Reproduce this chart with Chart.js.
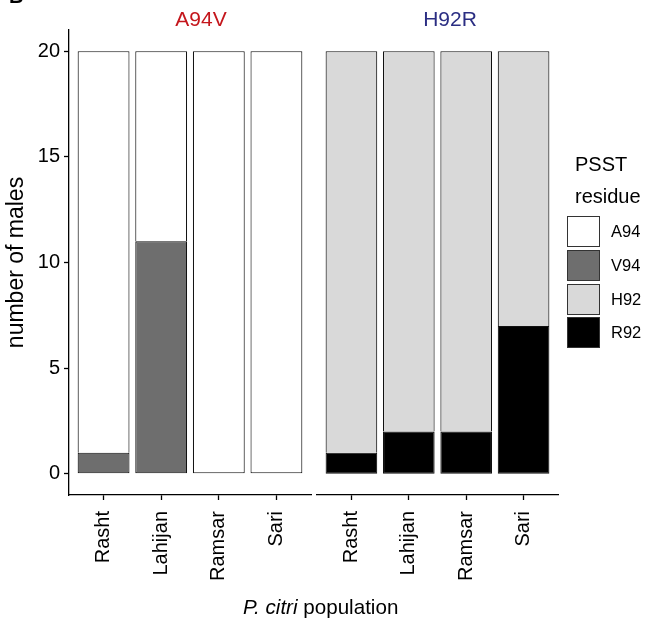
<!DOCTYPE html>
<html><head><meta charset="utf-8">
<script src="https://cdn.jsdelivr.net/npm/chart.js@4"></script>
<style>
body{margin:0;background:#fff;width:647px;height:630px;overflow:hidden;position:relative;font-family:"Liberation Sans",Arial,sans-serif;color:#000;}
canvas{position:absolute;top:0;}
.t{position:absolute;white-space:nowrap;line-height:1;}
.key{position:absolute;left:567px;width:31px;height:29px;border:1px solid #333;}
</style></head><body>
<canvas id="c1" width="312" height="630" style="left:0"></canvas>
<canvas id="c2" width="335" height="630" style="left:312px"></canvas>
<div class="t" style="left:9px;top:-14px;font-size:20px;font-weight:bold;">B</div>
<div class="t" id="f1" style="left:151px;width:100px;text-align:center;top:8px;font-size:21px;color:#c4161c;"></div>
<div class="t" id="f2" style="left:400px;width:100px;text-align:center;top:8px;font-size:21px;color:#2b2e83;"></div>
<div class="t" style="left:575px;top:154px;font-size:20px;">PSST</div>
<div class="t" style="left:575px;top:186px;font-size:20px;">residue</div>
<div id="legend"></div>
<div class="t" style="left:243px;top:597px;font-size:20.6px;"><i>P. citri</i> population</div>
<script>
const categories = ['Rasht', 'Lahijan', 'Ramsar', 'Sari'];
const positions = [1, 2, 3, 4];
const A94 = [19, 9, 20, 20];
const V94 = [1, 11, 0, 0];
const H92 = [19, 18, 18, 13];
const R92 = [1, 2, 2, 7];
const yTicks = [0, 5, 10, 15, 20];
const panels = ['A94V', 'H92R'];
const residues = ['A94', 'V94', 'H92', 'R92'];
const colors = {A94: '#ffffff', V94: '#6e6e6e', H92: '#d9d9d9', R92: '#000000'};

document.getElementById('f1').textContent = panels[0];
document.getElementById('f2').textContent = panels[1];
const lg = document.getElementById('legend');
const keyTops = [216, 250, 284, 317];
residues.forEach((r, i) => {
  const k = document.createElement('div');
  k.className = 'key';
  k.style.top = keyTops[i] + 'px';
  k.style.background = colors[r];
  lg.appendChild(k);
  const t = document.createElement('div');
  t.className = 't';
  t.style.left = '611px';
  t.style.top = (keyTops[i] + 15.5 - 8.1) + 'px';
  t.style.fontSize = '16.5px';
  t.textContent = r;
  lg.appendChild(t);
});

const FONT = '"Liberation Sans", Arial, sans-serif';

function makeOptions(showY, padLeft, padRight) {
  return {
    responsive: false, animation: false, events: [],
    layout: {padding: {left: padLeft, right: padRight, top: 30, bottom: 0}},
    plugins: {legend: {display: false}, tooltip: {enabled: false}},
    scales: {
      x: {
        type: 'linear', stacked: true, min: 0.4, max: 4.6, offset: false,
        afterBuildTicks: s => { s.ticks = positions.map(v => ({value: v})); },
        afterFit: s => { s.height = 135; s.paddingLeft = 0; s.paddingRight = 0; },
        ticks: {
          callback: v => categories[v - 1], minRotation: 90, maxRotation: 90,
          autoSkip: false, padding: 11, color: '#000', font: {family: FONT, size: 20}
        },
        grid: {display: true, drawOnChartArea: false, drawTicks: true, tickLength: 5,
               tickColor: '#000', tickWidth: 1.3, offset: false},
        border: {display: true, color: '#000', width: 1.3}
      },
      y: {
        display: showY, stacked: true, min: -1, max: 21,
        afterBuildTicks: s => { s.ticks = yTicks.map(v => ({value: v})); },
        afterFit: s => { s.width = showY ? 69 : 0; },
        ticks: {padding: 4, color: '#000', font: {family: FONT, size: 20}},
        grid: {display: true, drawOnChartArea: false, drawTicks: true, tickLength: 5,
               tickColor: '#000', tickWidth: 1.3},
        border: {display: true, color: '#000', width: 1.3},
        title: {display: true, text: 'number of males', color: '#000',
                font: {family: FONT, size: 23}, padding: {top: 3, bottom: 0}}
      }
    }
  };
}

function ds(label, data, lower) {
  return {
    label, data, backgroundColor: colors[label], borderColor: '#111', borderWidth: 1.1,
    borderSkipped: lower ? (c => (lower[c.dataIndex] > 0 ? 'start' : false)) : false,
    barPercentage: 0.9, categoryPercentage: 1.0
  };
}

new Chart(document.getElementById('c1'), {
  type: 'bar',
  data: {labels: positions, datasets: [ds('V94', V94), ds('A94', A94, V94)]},
  options: makeOptions(true, 0, 1)
});
new Chart(document.getElementById('c2'), {
  type: 'bar',
  data: {labels: positions, datasets: [ds('R92', R92), ds('H92', H92, R92)]},
  options: makeOptions(false, 5, 89)
});
</script>
</body></html>
